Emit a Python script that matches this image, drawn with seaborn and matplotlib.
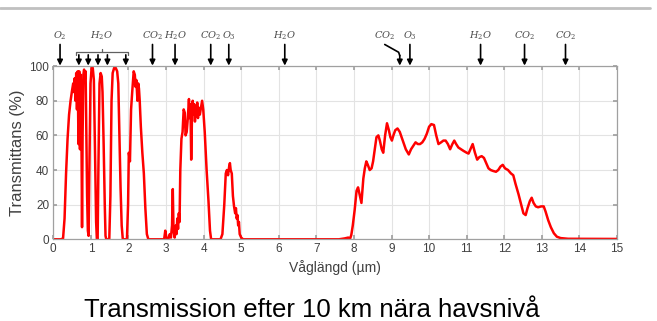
import numpy as np
import pandas as pd
import seaborn as sns
import matplotlib
matplotlib.use("Agg")
import matplotlib.pyplot as plt

# ---- data ----
wavelength = [
    0.00, 0.20, 0.26, 0.30, 0.34, 0.38, 0.42, 0.46, 0.50, 0.53, 0.55, 0.57, 0.59, 0.61, 0.63, 0.65,
    0.67, 0.69, 0.71, 0.73, 0.75, 0.765, 0.78, 0.80, 0.82, 0.84, 0.86, 0.88, 0.90, 0.92, 0.94, 0.96,
    0.99, 1.02, 1.05, 1.08, 1.11, 1.14, 1.16, 1.18, 1.20, 1.23, 1.26, 1.29, 1.31, 1.34, 1.37, 1.39,
    1.41, 1.49, 1.52, 1.55, 1.58, 1.62, 1.66, 1.70, 1.73, 1.76, 1.79, 1.82, 1.85, 1.96, 1.99, 2.01,
    2.04, 2.07, 2.10, 2.14, 2.17, 2.19, 2.21, 2.24, 2.26, 2.28, 2.30, 2.33, 2.37, 2.41, 2.45, 2.49,
    2.53, 2.95, 2.98, 3.01, 3.06, 3.10, 3.13, 3.16, 3.18, 3.20, 3.23, 3.26, 3.28, 3.30, 3.32, 3.34,
    3.36, 3.38, 3.41, 3.44, 3.47, 3.50, 3.52, 3.55, 3.58, 3.61, 3.63, 3.65, 3.67, 3.69, 3.71, 3.73,
    3.75, 3.77, 3.79, 3.81, 3.83, 3.85, 3.87, 3.90, 3.93, 3.96, 3.99, 4.03, 4.08, 4.13, 4.17, 4.20,
    4.45, 4.50, 4.55, 4.59, 4.62, 4.65, 4.68, 4.70, 4.72, 4.75, 4.78, 4.81, 4.84, 4.86, 4.88, 4.90,
    4.92, 4.94, 4.96, 5.00, 5.05, 7.60, 7.75, 7.85, 7.90, 7.93, 7.97, 8.02, 8.07, 8.11, 8.16, 8.20,
    8.25, 8.29, 8.33, 8.37, 8.42, 8.47, 8.51, 8.56, 8.60, 8.65, 8.69, 8.74, 8.78, 8.83, 8.88, 8.93,
    8.97, 9.01, 9.05, 9.10, 9.16, 9.22, 9.30, 9.38, 9.46, 9.52, 9.58, 9.64, 9.70, 9.76, 9.82, 9.88,
    9.94, 10.00, 10.06, 10.13, 10.19, 10.25, 10.32, 10.38, 10.44, 10.50, 10.56, 10.62, 10.67, 10.72,
    10.78, 10.85, 10.92, 11.00, 11.05, 11.10, 11.16, 11.22, 11.28, 11.34, 11.40, 11.46, 11.52, 11.58,
    11.64, 11.70, 11.78, 11.84, 11.90, 11.96, 12.02, 12.10, 12.18, 12.24, 12.30, 12.38, 12.45, 12.51,
    12.57, 12.62, 12.68, 12.73, 12.78, 12.84, 12.90, 12.98, 13.05, 13.10, 13.17, 13.24, 13.32, 13.40,
    13.50, 13.70, 15.00,
]
transmittance = [
    0, 0, 0.5, 12, 38, 58, 72, 80, 86, 90, 85, 93, 80, 96, 75, 97,
    55, 97, 52, 95, 60, 7, 60, 95, 98, 93, 97, 60, 25, 5, 2, 40,
    90, 99, 99, 92, 50, 10, 0, 0, 40, 90, 96, 94, 85, 55, 20, 2,
    0, 0, 25, 80, 96, 99, 99, 97, 90, 60, 30, 8, 0, 0, 20, 50,
    45, 75, 85, 97, 95, 88, 92, 80, 90, 87, 80, 65, 50, 38, 18, 3,
    0, 0, 5, 1, 0, 3, 1, 8, 29, 5, 1, 8, 3, 12, 6, 15,
    10, 40, 58, 62, 75, 73, 60, 62, 70, 81, 70, 78, 46, 70, 80, 72,
    78, 68, 76, 72, 79, 70, 76, 72, 76, 80, 75, 62, 40, 22, 5, 0,
    0, 3, 20, 38, 40, 37, 42, 44, 40, 38, 25, 19, 15, 18, 12, 14,
    8, 10, 3, 1, 0, 0, 0.5, 1, 0.5, 2.5, 8, 17, 28, 30, 25, 21,
    35, 41, 45, 43, 40, 41, 45, 53, 59, 60, 57, 52, 50, 60, 67, 63,
    59, 57, 60, 63, 64, 62, 57, 52, 49, 52, 54, 56, 55, 55, 56, 58,
    61, 65, 66.5, 66, 60, 55, 56, 57, 57, 55, 52, 55, 57, 55,
    53, 52, 51, 50, 49.5, 52, 55, 50, 46, 47.5, 48, 47, 44, 41,
    40, 39.5, 39, 40, 42, 43, 41, 40, 38, 37, 32, 26, 20, 15,
    14, 18, 22, 24, 21, 19, 18.5, 19, 19, 16, 11, 7, 3.5, 1.5,
    0.7, 0.3, 0.2,
]

x_ticks = list(range(0, 16))
y_ticks = [0, 20, 40, 60, 80, 100]

# absorption markers (gas, arrow position in µm)
gas_labels = ["$O_2$", "$CO_2$", "$H_2O$", "$CO_2$", "$O_3$", "$H_2O$",
              "$O_3$", "$H_2O$", "$CO_2$", "$CO_2$"]
gas_x = [0.18, 2.64, 3.24, 4.19, 4.67, 6.16, 9.49, 11.37, 12.54, 13.63]
bracket_arrows_x = [0.68, 0.93, 1.19, 1.44, 1.93]
bracket_label = "$H_2O$"
bent_label = "$CO_2$"
bent_label_x = 8.82
bent_arrow_x = 9.22

title_text = "Transmission efter 10 km nära havsnivå"
xlabel_text = "Våglängd (µm)"
ylabel_text = "Transmittans (%)"

df = pd.DataFrame({"wl": wavelength, "T": transmittance})

sns.set_theme(style="whitegrid")
plt.rcParams["font.family"] = ["Liberation Sans", "DejaVu Sans"]
plt.rcParams["mathtext.fontset"] = "dejavuserif"

fig = plt.figure(figsize=(6.57, 3.21), dpi=100)
ax = fig.add_axes([0.0811, 0.2545, 0.8580, 0.5395])

sns.lineplot(data=df, x="wl", y="T", ax=ax, color="#ff0000", linewidth=1.8,
             estimator=None, sort=False)

ax.set_xlim(0, 15)
ax.set_ylim(0, 100)
ax.set_xticks(x_ticks)
ax.set_yticks(y_ticks)
ax.grid(True, color="#e3e3e3", linewidth=0.8)
for s in ax.spines.values():
    s.set_color("#a0a0a0")
    s.set_linewidth(0.9)
ax.tick_params(axis="both", which="both", direction="in", length=3, color="#a0a0a0",
               labelsize=8.5, labelcolor="#404040", pad=3, top=True, right=True,
               bottom=True, left=True)
ax.set_xlabel(xlabel_text, fontsize=10, color="#404040", labelpad=3)
ax.set_ylabel(ylabel_text, fontsize=12, color="#404040", labelpad=3)

# gas annotations above the plot
lab_col = "#4a4a4a"
arrow_kw = dict(arrowstyle="-|>", color="black", lw=1.2, mutation_scale=8,
                shrinkA=0, shrinkB=0)
for lab, gx in zip(gas_labels, gas_x):
    ax.annotate("", xy=(gx, 100.3), xytext=(gx, 112.5), arrowprops=arrow_kw,
                annotation_clip=False)
    ax.text(gx, 117.5, lab, ha="center", va="center", fontsize=7,
            color=lab_col, clip_on=False)

for bx in bracket_arrows_x:
    ax.annotate("", xy=(bx, 100.3), xytext=(bx, 106.5), arrowprops=arrow_kw,
                annotation_clip=False)
bx0, bx1 = 0.60, 1.99
bmid = 0.5 * (bx0 + bx1)
ax.plot([bx0, bx0, bx1, bx1], [106.3, 108.0, 108.0, 106.3], color="#606060",
        lw=0.9, clip_on=False)
ax.plot([bmid, bmid], [108.0, 110.0], color="#606060", lw=0.9, clip_on=False)
ax.text(bmid, 117.5, bracket_label, ha="center", va="center", fontsize=7,
        color=lab_col, clip_on=False)

ax.plot([bent_label_x, bent_arrow_x - 0.03, bent_arrow_x],
        [112.5, 108.0, 106.0], color="black", lw=1.2, clip_on=False)
ax.annotate("", xy=(bent_arrow_x, 100.3), xytext=(bent_arrow_x, 106.2),
            arrowprops=arrow_kw, annotation_clip=False)
ax.text(bent_label_x, 117.5, bent_label, ha="center", va="center", fontsize=7,
        color=lab_col, clip_on=False)

# thin gray separator line at the top
fig.add_artist(plt.Line2D([0, 0.99], [0.975, 0.975], color="#c0c0c0", lw=2.0,
                          transform=fig.transFigure))

fig.text(0.474, 0.0125, title_text, ha="center", va="baseline", fontsize=18.5,
         color="black")

fig.savefig("out.png", dpi=100, facecolor="white")
